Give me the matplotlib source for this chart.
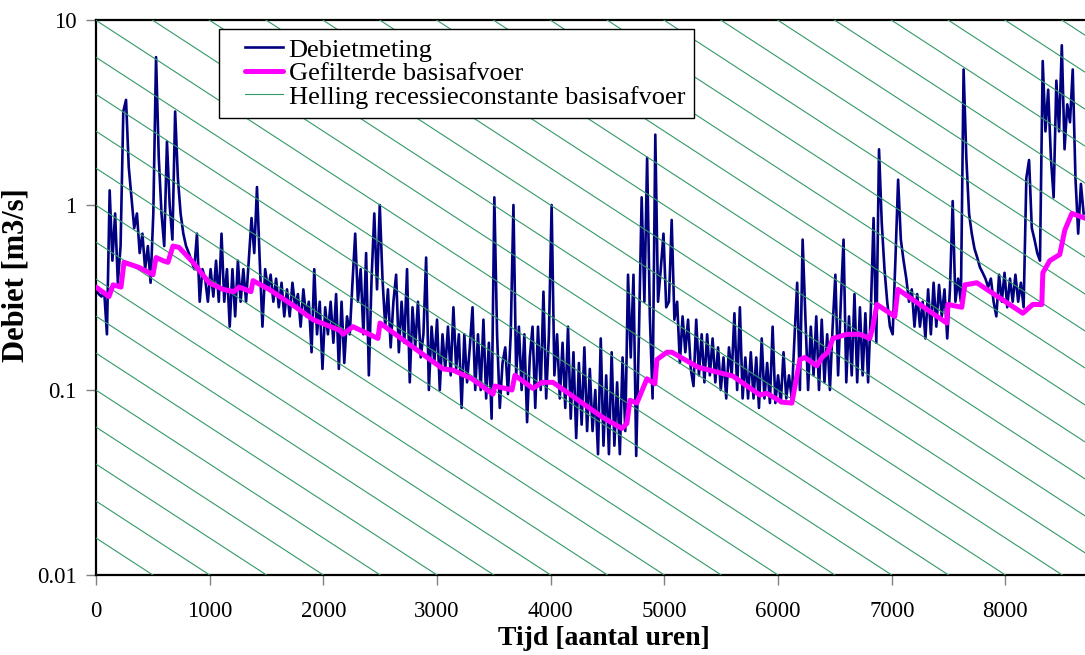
import numpy as np
import matplotlib.pyplot as plt
from matplotlib.legend_handler import HandlerLine2D

# daily readings of the hourly discharge record (one value per 24 h)
stap_uren = 24
debiet = [
    0.35, 0.33, 0.32, 0.34, 0.2, 1.2, 0.5, 0.9, 0.38, 0.6,
    3.2, 3.7, 1.6, 1.1, 0.75, 0.9, 0.55, 0.7, 0.45, 0.6,
    0.38, 0.9, 6.3, 1.8, 0.9, 0.6, 2.2, 1.0, 0.65, 3.2,
    1.4, 0.9, 0.7, 0.6, 0.55, 0.5, 0.45, 0.7, 0.3, 0.45,
    0.4, 0.3, 0.45, 0.32, 0.5, 0.3, 0.7, 0.3, 0.45, 0.22,
    0.45, 0.25, 0.5, 0.3, 0.45, 0.3, 0.5, 0.85, 0.55, 1.25,
    0.5, 0.22, 0.45, 0.35, 0.42, 0.3, 0.4, 0.28, 0.38, 0.25,
    0.35, 0.25, 0.38, 0.28, 0.33, 0.22, 0.35, 0.25, 0.3, 0.16,
    0.45, 0.2, 0.3, 0.13, 0.28, 0.2, 0.3, 0.18, 0.33, 0.13,
    0.3, 0.14, 0.25, 0.2, 0.38, 0.7, 0.3, 0.45, 0.2, 0.55,
    0.12, 0.4, 0.9, 0.35, 1.0, 0.4, 0.22, 0.35, 0.17, 0.3,
    0.42, 0.16, 0.3, 0.18, 0.45, 0.11, 0.28, 0.17, 0.3, 0.15,
    0.2, 0.52, 0.1, 0.22, 0.14, 0.24, 0.1, 0.2, 0.13, 0.22,
    0.12, 0.28, 0.13, 0.2, 0.08, 0.2, 0.11, 0.17, 0.28, 0.1,
    0.2, 0.1, 0.24, 0.09, 0.18, 0.07, 1.1, 0.2, 0.08, 0.14,
    0.17, 0.095, 0.2, 1.0, 0.12, 0.22, 0.1, 0.2, 0.067, 0.15,
    0.22, 0.08, 0.22, 0.1, 0.34, 0.09, 0.2, 1.0, 0.12, 0.2,
    0.09, 0.18, 0.08, 0.22, 0.07, 0.16, 0.055, 0.14, 0.065, 0.17,
    0.06, 0.13, 0.06, 0.1, 0.045, 0.19, 0.05, 0.12, 0.045, 0.16,
    0.05, 0.11, 0.045, 0.15, 0.06, 0.42, 0.15, 0.42, 0.044, 0.2,
    1.1, 0.3, 1.8, 0.25, 0.09, 2.4, 0.3, 0.45, 0.7, 0.28,
    0.3, 0.83, 0.24, 0.3, 0.14, 0.25, 0.16, 0.24, 0.13, 0.105,
    0.24, 0.12, 0.2, 0.11, 0.2, 0.12, 0.19, 0.11, 0.17, 0.1,
    0.15, 0.09, 0.17, 0.12, 0.26, 0.1, 0.28, 0.09, 0.15, 0.09,
    0.16, 0.09, 0.15, 0.08, 0.19, 0.09, 0.14, 0.085, 0.22, 0.085,
    0.12, 0.085, 0.16, 0.09, 0.12, 0.09, 0.19, 0.38, 0.1, 0.65,
    0.25, 0.1, 0.22, 0.12, 0.25, 0.1, 0.24, 0.11, 0.2, 0.1,
    0.22, 0.42, 0.12, 0.3, 0.65, 0.11, 0.25, 0.12, 0.33, 0.11,
    0.28, 0.12, 0.26, 0.11, 0.27, 0.85, 0.18, 2.0, 0.8, 0.45,
    0.3, 0.22, 0.2, 0.5, 1.37, 0.65, 0.5, 0.4, 0.3, 0.35,
    0.22, 0.33, 0.22, 0.3, 0.19, 0.35, 0.2, 0.38, 0.22, 0.37,
    0.25, 0.35, 0.19, 0.35, 1.05, 0.3, 0.4, 0.3, 5.4, 1.8,
    0.9, 0.7, 0.58, 0.52, 0.46, 0.43, 0.4, 0.36, 0.4, 0.3,
    0.25, 0.42, 0.3, 0.43, 0.28, 0.4, 0.3, 0.42, 0.3, 0.38,
    0.28, 1.4, 1.75, 0.75, 0.65, 0.55, 0.5, 6.0, 2.5, 4.2,
    1.8, 1.1, 4.7, 2.5, 7.3, 2.0, 3.5, 2.8, 5.4, 1.4,
    0.7, 1.3, 0.9,
]

# filtered baseflow, read at its corners
basis_uren = [0, 114, 150, 220, 246, 378, 501, 528, 589, 633, 677, 730, 853, 994,
              1117, 1214, 1258, 1363, 1381, 1522, 1759, 1909, 2146, 2172, 2260,
              2480, 2498, 3052, 3140, 3307, 3492, 3509, 3659, 3685, 3843, 3923,
              4019, 4459, 4626, 4670, 4697, 4758, 4846, 4916, 4934, 5022, 5066,
              5294, 5462, 5602, 5840, 5901, 6033, 6121, 6192, 6236, 6341, 6385,
              6438, 6482, 6605, 6719, 6807, 6834, 6869, 7027, 7054, 7484, 7493,
              7616, 7643, 7748, 8153, 8241, 8320, 8329, 8390, 8478, 8522, 8584, 8698]
basisafvoer = [0.36, 0.32, 0.37, 0.36, 0.49, 0.46, 0.42, 0.52, 0.5, 0.49, 0.6, 0.59,
               0.49, 0.38, 0.35, 0.34, 0.36, 0.34, 0.39, 0.35, 0.28, 0.24, 0.21, 0.2,
               0.22, 0.19, 0.23, 0.13, 0.128, 0.115, 0.095, 0.105, 0.1, 0.12, 0.102,
               0.11, 0.11, 0.071, 0.062, 0.066, 0.088, 0.085, 0.115, 0.108, 0.146,
               0.16, 0.16, 0.133, 0.125, 0.119, 0.094, 0.096, 0.086, 0.085, 0.146,
               0.15, 0.135, 0.15, 0.16, 0.19, 0.2, 0.2, 0.19, 0.22, 0.29, 0.25, 0.35,
               0.23, 0.29, 0.28, 0.37, 0.38, 0.26, 0.29, 0.29, 0.43, 0.5, 0.54, 0.73,
               0.9, 0.85]

# recession constant (per hour) and where the guide lines cross 0.01 m3/s
recessieconstante = 0.99908
snijpunten_uren = list(range(0, 16500, 500))

x_max = 8700
uren = np.arange(len(debiet)) * stap_uren

plt.rcParams['font.family'] = ['Liberation Serif', 'DejaVu Serif']

fig = plt.figure(figsize=(10.85, 6.55), dpi=100)
ax = fig.add_axes([0.0885, 0.1221, 0.9115, 0.8474])

ax.plot(uren, debiet, color='#000080', lw=1.9, zorder=2, label='Debietmeting')
ax.plot(basis_uren, basisafvoer, color='#FF00FF', lw=3.6, zorder=4,
        solid_joinstyle='round', solid_capstyle='round',
        label='Gefilterde basisafvoer')

t_lijn = np.array([0, x_max])
for i, t0 in enumerate(snijpunten_uren):
    ax.plot(t_lijn, 0.01 * recessieconstante ** (t_lijn - t0), color='#339966',
            lw=0.8, zorder=3,
            label='Helling recessieconstante basisafvoer' if i == 0 else None)

ax.set_yscale('log')
ax.set_ylim(0.01, 10)
ax.set_xlim(0, x_max)
ax.set_yticks([0.01, 0.1, 1, 10])
ax.set_yticklabels(['0.01', '0.1', '1', '10'])
ax.set_xticks(range(0, 9000, 1000))
ax.minorticks_off()
ax.tick_params(axis='both', direction='out', length=7, width=1, color='#808080',
               labelsize=16.5, pad=7)
ax.tick_params(axis='x', pad=12)

for s in ['left', 'bottom', 'top']:
    ax.spines[s].set_linewidth(1.6)
ax.spines['right'].set_visible(False)

ax.set_xlabel('Tijd [aantal uren]', fontsize=20, fontweight='bold')
ax.xaxis.set_label_coords(0.514, -0.092)
ax.set_ylabel('Debiet [m3/s]', fontsize=22, fontweight='bold')
ax.yaxis.set_label_coords(-0.066, 0.54)

handler = HandlerLine2D(xpad=0.65)
leg = ax.legend(loc='upper left', bbox_to_anchor=(0.124, 0.984), fontsize=19,
                frameon=True, fancybox=False, edgecolor='black', framealpha=1,
                handlelength=2.1, handletextpad=0.2, borderpad=0.35,
                labelspacing=0.0, borderaxespad=0,
                handler_map={ln: handler for ln in ax.get_lines()[:3]})
leg.get_frame().set_linewidth(1.0)

fig.savefig('out.png', dpi=100)
